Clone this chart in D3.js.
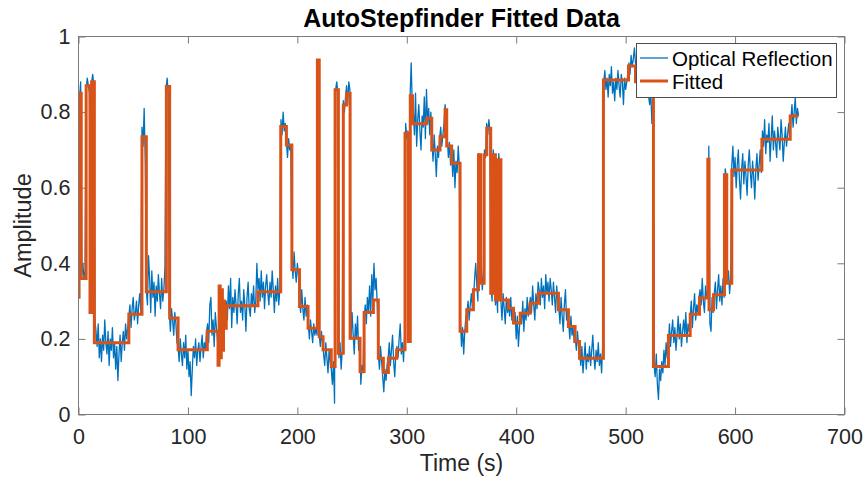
<!DOCTYPE html>
<html>
<head>
<meta charset="utf-8">
<script src="https://cdn.jsdelivr.net/npm/d3@7"></script>
<style>
  html, body { margin: 0; padding: 0; background: #fff; }
  svg { display: block; }
  text { font-family: "Liberation Sans", Arial, Helvetica, sans-serif; }
</style>
</head>
<body>
<svg id="chart" width="867" height="482"></svg>
<script>
// ---- Data ----
const chartTitle = "AutoStepfinder Fitted Data";
const xLabel = "Time (s)";
const yLabel = "Amplitude";
const seriesNames = ["Optical Reflection", "Fitted"];
const xTicks = [0, 100, 200, 300, 400, 500, 600, 700];
const yTicks = [0, 0.2, 0.4, 0.6, 0.8, 1];

// Optical reflection signal, one sample per second starting at t = 0 s
const signalStart = 0;
const signalStep = 1;
const signalValues = [
  .31,.84,.88,.37,.40,.36,.38,.86,.89,.87,
  .85,.27,.88,.90,.87,.25,.22,.18,.24,.15,
  .20,.14,.21,.17,.25,.19,.16,.22,.13,.20,
  .17,.23,.15,.19,.12,.18,.09,.16,.21,.14,
  .19,.22,.17,.24,.20,.23,.26,.29,.23,.28,
  .31,.25,.27,.30,.24,.29,.32,.27,.76,.71,
  .81,.67,.33,.29,.42,.36,.27,.38,.31,.35,
  .26,.34,.30,.37,.32,.28,.36,.30,.33,.39,
  .86,.89,.85,.27,.22,.28,.25,.21,.27,.24,
  .19,.18,.14,.20,.16,.13,.19,.15,.21,.12,
  .17,.10,.14,.05,.12,.18,.15,.20,.13,.17,
  .19,.14,.18,.21,.15,.19,.17,.22,.24,.19,
  .29,.31,.21,.25,.18,.27,.23,.20,.13,.34,
  .15,.33,.17,.30,.23,.30,.25,.34,.28,.36,
  .23,.31,.27,.33,.29,.24,.32,.36,.27,.30,
  .25,.33,.29,.22,.31,.35,.28,.26,.32,.29,
  .34,.27,.30,.40,.33,.36,.30,.38,.31,.35,
  .28,.34,.37,.32,.29,.35,.31,.38,.33,.27,
  .34,.30,.36,.29,.33,.78,.74,.80,.75,.77,
  .72,.68,.73,.70,.71,.41,.36,.43,.38,.35,
  .40,.37,.30,.27,.33,.28,.25,.31,.26,.29,
  .24,.20,.25,.22,.19,.24,.21,.23,.21,.93,
  .21,.18,.22,.19,.16,.13,.19,.15,.11,.17,
  .14,.12,.08,.14,.03,.86,.88,.85,.15,.19,
  .12,.17,.83,.80,.84,.87,.82,.88,.86,.20,
  .27,.21,.16,.24,.20,.26,.17,.19,.08,.13,
  .11,.25,.29,.24,.31,.27,.34,.26,.37,.30,
  .40,.33,.36,.29,.16,.12,.18,.14,.10,.06,
  .12,.09,.13,.15,.19,.13,.17,.21,.14,.10,
  .16,.18,.15,.20,.24,.16,.19,.14,.21,.77,
  .73,.75,.20,.84,.93,.82,.80,.74,.85,.71,
  .78,.82,.75,.70,.79,.76,.84,.73,.86,.77,
  .81,.74,.80,.72,.67,.74,.69,.63,.71,.68,
  .73,.76,.71,.74,.77,.82,.79,.73,.68,.72,
  .66,.69,.63,.70,.60,.67,.64,.71,.66,.25,
  .18,.23,.16,.22,.26,.27,.30,.25,.29,.32,
  .28,.31,.36,.40,.34,.30,.69,.68,.40,.33,
  .37,.70,.68,.77,.74,.78,.75,.33,.30,.70,
  .67,.29,.32,.27,.69,.66,.30,.25,.32,.28,
  .24,.31,.27,.29,.26,.31,.25,.28,.24,.27,
  .20,.26,.18,.23,.27,.24,.30,.22,.28,.25,
  .31,.26,.29,.31,.27,.34,.29,.25,.32,.28,
  .35,.33,.29,.36,.31,.34,.28,.37,.32,.35,
  .30,.36,.33,.29,.35,.31,.27,.34,.30,.28,
  .24,.31,.26,.22,.29,.33,.25,.27,.24,.20,
  .26,.21,.23,.19,.20,.17,.22,.18,.16,.13,
  .18,.11,.15,.19,.12,.16,.14,.18,.13,.17,
  .21,.15,.12,.17,.14,.19,.13,.16,.11,.18,
  .88,.91,.86,.89,.84,.90,.87,.92,.85,.88,
  .83,.89,.86,.91,.87,.84,.90,.88,.82,.89,
  .86,.88,.90,.93,.90,.95,.92,.94,.97,.93,
  .91,.89,.92,.88,.90,.87,.89,.86,.88,.85,
  .86,.84,.82,.85,.77,.80,.13,.10,.16,.08,
  .04,.12,.09,.14,.11,.17,.13,.19,.15,.18,
  .24,.18,.22,.25,.19,.23,.17,.21,.26,.20,
  .24,.18,.22,.25,.21,.27,.19,.24,.22,.26,
  .30,.23,.28,.32,.25,.29,.27,.31,.33,.29,
  .36,.30,.27,.34,.31,.33,.71,.24,.22,.31,
  .27,.32,.35,.28,.33,.37,.30,.34,.29,.36,
  .31,.65,.63,.35,.38,.32,.36,.66,.71,.63,
  .68,.60,.66,.70,.62,.57,.65,.69,.61,.67,
  .63,.58,.66,.70,.64,.60,.67,.63,.57,.65,
  .69,.62,.66,.70,.64,.75,.71,.78,.69,.74,
  .72,.77,.67,.73,.79,.70,.75,.72,.68,.76,
  .73,.70,.78,.74,.67,.72,.76,.71,.74,.77,
  .73,.78,.82,.76,.80,.84,.77,.81,.79
];

// Step fit: start time of each step (s) and its level
const fitStarts = [
  0, 0.5, 2.5, 7, 10.5, 12, 14.5, 46, 58, 62, 80.3, 83.3, 91, 117.7,
  127.5, 128.5, 129.5, 130.5, 131.5, 132.5, 133.5, 135, 164, 184.8, 190, 195,
  202, 209.8, 218.3, 220, 223.5, 231, 234.5, 237.5, 242, 245, 248.2, 257.3,
  261, 269.5, 274, 278.6, 283.2, 290.8, 298.4, 301.4, 303.2, 305.3, 318.3,
  322.8, 330.4, 335, 336.5, 341, 348.7, 354.8, 360.9, 365.5, 367.5, 370.7,
  373.1, 376.7, 379, 381, 383.5, 386, 392.9, 397.5, 403.6, 412.7, 420.3,
  438.6, 447.7, 453.8, 457.8, 479.7, 502.6, 509, 525.4, 539.1, 559, 567.5,
  575.1, 576.2, 580.3, 590.3, 592.4, 597, 624.5, 650.4
];
const fitLevels = [
  0.31, 0.85, 0.36, 0.87, 0.27, 0.88, 0.19, 0.265, 0.735, 0.325, 0.868, 0.255, 0.171, 0.22,
  0.13, 0.34, 0.15, 0.33, 0.17, 0.30, 0.228, 0.288, 0.325, 0.762, 0.713, 0.383,
  0.286, 0.228, 0.938, 0.206, 0.171, 0.127, 0.859, 0.162, 0.819, 0.85, 0.202, 0.114,
  0.27, 0.303, 0.149, 0.111, 0.149, 0.171, 0.744, 0.193, 0.843, 0.769, 0.784,
  0.70, 0.735, 0.806, 0.71, 0.665, 0.22, 0.277, 0.33, 0.687, 0.347, 0.687,
  0.757, 0.321, 0.687, 0.303, 0.674, 0.303, 0.281, 0.242, 0.268, 0.294, 0.321,
  0.277, 0.233, 0.193, 0.149, 0.885, 0.922, 0.88, 0.127, 0.209, 0.265, 0.308,
  0.675, 0.277, 0.317, 0.634, 0.347, 0.647, 0.728, 0.79
];
const fitEnd = 658;

// ---- Drawing ----
const plot = { left: 78.5, right: 844.5, top: 36.5, bottom: 414.5 };
const svg = d3.select("#chart");

const x = d3.scaleLinear().domain([0, 700]).range([plot.left, plot.right]);
const y = d3.scaleLinear().domain([0, 1]).range([plot.bottom, plot.top]);

const signal = signalValues.map((v, i) => ({ t: signalStart + i * signalStep, v }));
const fit = fitStarts.map((t, i) => ({ t, v: fitLevels[i] }));
fit.push({ t: fitEnd, v: fitLevels[fitLevels.length - 1] });

const tickColor = "#262626";
const boxColor = "#7a7a7a";

// Axes (ticks inward, MATLAB style)
const fmtY = d3.format("~g");
const gx = svg.append("g").attr("transform", `translate(0,${plot.bottom})`)
  .call(d3.axisBottom(x).tickValues(xTicks).tickSize(-7).tickPadding(14).tickFormat(d3.format("d")));
const gxTop = svg.append("g").attr("transform", `translate(0,${plot.top})`)
  .call(d3.axisTop(x).tickValues(xTicks).tickSize(-7).tickFormat(""));
const gy = svg.append("g").attr("transform", `translate(${plot.left},0)`)
  .call(d3.axisLeft(y).tickValues(yTicks).tickSize(-7).tickPadding(8).tickFormat(fmtY));
const gyRight = svg.append("g").attr("transform", `translate(${plot.right},0)`)
  .call(d3.axisRight(y).tickValues(yTicks).tickSize(-7).tickFormat(""));

[gx, gxTop, gy, gyRight].forEach(g => {
  g.select(".domain").remove();
  g.selectAll(".tick line").attr("stroke", boxColor).attr("stroke-width", 1);
  g.selectAll(".tick text").attr("fill", tickColor)
    .style("font-size", "21.5px").style("font-family", "'Liberation Sans', Arial, sans-serif");
});

// Data lines clipped to plot
svg.append("clipPath").attr("id", "clip").append("rect")
  .attr("x", plot.left).attr("y", plot.top)
  .attr("width", plot.right - plot.left).attr("height", plot.bottom - plot.top);

const gData = svg.append("g").attr("clip-path", "url(#clip)");

gData.append("path")
  .datum(signal)
  .attr("fill", "none")
  .attr("stroke", "#0072BD")
  .attr("stroke-width", 1.3)
  .attr("stroke-linejoin", "round")
  .attr("d", d3.line().x(d => x(d.t)).y(d => y(d.v)));

gData.append("path")
  .datum(fit)
  .attr("fill", "none")
  .attr("stroke", "#D95319")
  .attr("stroke-width", 3)
  .attr("d", d3.line().curve(d3.curveStepAfter).x(d => x(d.t)).y(d => y(d.v)));

// Box
svg.append("rect")
  .attr("x", plot.left).attr("y", plot.top)
  .attr("width", plot.right - plot.left).attr("height", plot.bottom - plot.top)
  .attr("fill", "none").attr("stroke", boxColor).attr("stroke-width", 1);

// Title and labels
svg.append("text")
  .attr("x", (plot.left + plot.right) / 2).attr("y", 27)
  .attr("text-anchor", "middle")
  .style("font-size", "25px").style("font-weight", "bold")
  .attr("fill", "#000")
  .text(chartTitle);

svg.append("text")
  .attr("x", (plot.left + plot.right) / 2).attr("y", 471)
  .attr("text-anchor", "middle")
  .style("font-size", "23px")
  .attr("fill", tickColor)
  .text(xLabel);

svg.append("text")
  .attr("transform", `translate(31,${(plot.top + plot.bottom) / 2}) rotate(-90)`)
  .attr("text-anchor", "middle")
  .style("font-size", "23.5px")
  .attr("fill", tickColor)
  .text(yLabel);

// Legend
const lg = svg.append("g");
lg.append("rect")
  .attr("x", 636.5).attr("y", 43.5).attr("width", 200).attr("height", 54)
  .attr("fill", "#fff").attr("stroke", "#4d4d4d").attr("stroke-width", 1);
const legendItems = [
  { name: seriesNames[0], color: "#0072BD", width: 1.3, yy: 58 },
  { name: seriesNames[1], color: "#D95319", width: 3, yy: 81 }
];
legendItems.forEach(it => {
  lg.append("line").attr("x1", 640).attr("x2", 668).attr("y1", it.yy).attr("y2", it.yy)
    .attr("stroke", it.color).attr("stroke-width", it.width);
  lg.append("text").attr("x", 672).attr("y", it.yy + 7.5)
    .style("font-size", "20.5px").attr("fill", "#000").text(it.name);
});
</script>
</body>
</html>
